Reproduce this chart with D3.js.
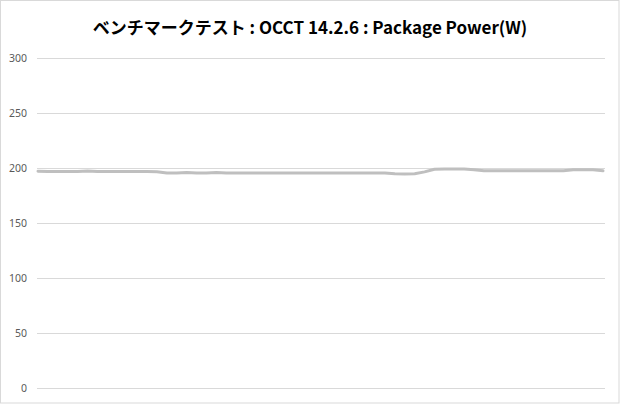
<!DOCTYPE html>
<html>
<head>
<meta charset="utf-8">
<style>
  body { margin: 0; background: #fff; }
  svg { display: block; }
</style>
</head>
<body>
<svg width="620" height="404"></svg>
<script src="https://d3js.org/d3.v7.min.js"></script>
<script>

// chart text
var title = "ベンチマークテスト : OCCT 14.2.6 : Package Power(W)";
var yTicks = [0, 50, 100, 150, 200, 250, 300];

// package power samples (W), evenly spaced in time
var power = [
  197.0, 196.8, 196.8, 196.8, 196.8, 197.3, 196.8, 196.8, 196.8, 196.8,
  196.8, 196.8, 196.5, 195.5, 195.5, 195.8, 195.5, 195.5, 195.8, 195.5,
  195.5, 195.5, 195.5, 195.5, 195.5, 195.5, 195.5, 195.5, 195.5, 195.5,
  195.5, 195.5, 195.5, 195.5, 195.5, 195.5, 194.8, 194.5, 194.8, 196.5,
  198.8, 199.2, 199.0, 199.0, 198.5, 197.5, 197.5, 197.5, 197.5, 197.5,
  197.5, 197.5, 197.5, 197.5, 198.5, 198.5, 198.5, 197.5
];

var svg = d3.select("svg"),
    width = +svg.attr("width"),
    height = +svg.attr("height");

// outer frame
svg.append("rect")
    .attr("x", 0.5).attr("y", 0.5)
    .attr("width", width - 1.5).attr("height", height - 1.5)
    .attr("fill", "#fff").attr("stroke", "#d9d9d9");

svg.append("text")
    .attr("x", 310).attr("y", 34)
    .attr("text-anchor", "middle")
    .style("font-family", "'Noto Sans CJK JP', 'Noto Sans', sans-serif")
    .style("font-weight", "bold")
    .style("font-size", "17px")
    .attr("fill", "#000")
    .text(title);

var x = d3.scaleLinear().domain([0, power.length - 1]).range([38, 603]);
var y = d3.scaleLinear().domain([0, 300]).range([388, 58]);

// gridlines + labels
var yAxis = d3.axisLeft(y)
    .tickValues(yTicks)
    .tickSize(-(605 - 37))
    .tickPadding(10);

var g = svg.append("g")
    .attr("transform", "translate(37,0)")
    .call(yAxis);
g.select(".domain").remove();
g.selectAll(".tick line").attr("stroke", "#d9d9d9");
g.selectAll(".tick text")
    .attr("fill", "#595959")
    .style("font-family", "'Noto Sans', sans-serif")
    .style("font-size", "10.5px");

var line = d3.line()
    .x(function(d, i) { return x(i); })
    .y(function(d) { return y(d); });

svg.append("path")
    .datum(power)
    .attr("d", line)
    .attr("fill", "none")
    .attr("stroke", "#bfbfbf")
    .attr("stroke-width", 3)
    .attr("stroke-linejoin", "round")
    .attr("stroke-linecap", "round");

</script>
</body>
</html>
